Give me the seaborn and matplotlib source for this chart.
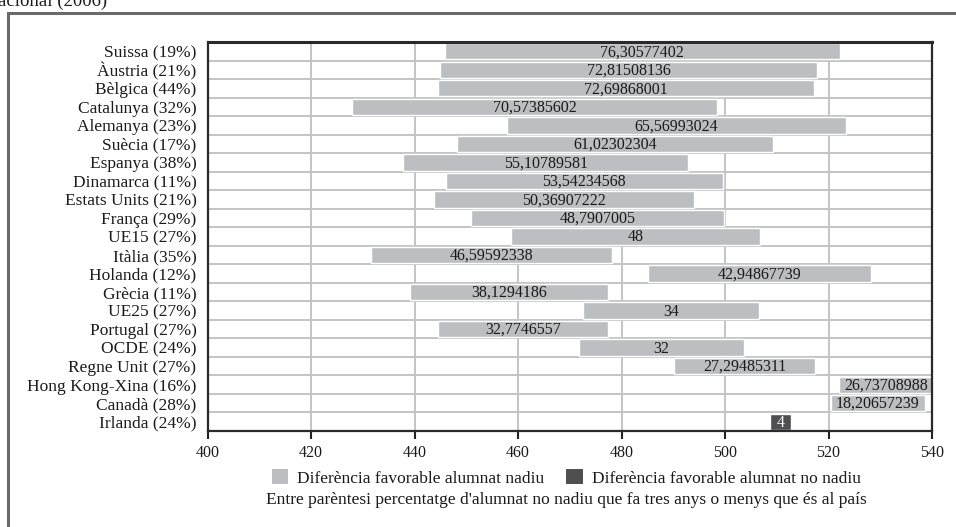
import matplotlib
matplotlib.use("Agg")
import matplotlib.pyplot as plt
from matplotlib.patches import Rectangle, Patch
import seaborn as sns
import pandas as pd
import numpy as np

countries = ["Suissa (19%)", "Àustria (21%)", "Bèlgica (44%)", "Catalunya (32%)", "Alemanya (23%)",
             "Suècia (17%)", "Espanya (38%)", "Dinamarca (11%)", "Estats Units (21%)", "França (29%)",
             "UE15 (27%)", "Itàlia (35%)", "Holanda (12%)", "Grècia (11%)", "UE25 (27%)",
             "Portugal (27%)", "OCDE (24%)", "Regne Unit (27%)", "Hong Kong-Xina (16%)", "Canadà (28%)",
             "Irlanda (24%)"]
starts = [445.85, 445.0, 444.45, 427.9, 457.8, 448.2, 437.8, 446.0, 443.7, 451.0,
          458.7, 431.65, 485.2, 439.2, 472.65, 444.55, 471.7, 490.15, 522.1, 520.4, 508.7]
differences = [76.30577402, 72.81508136, 72.69868001, 70.57385602, 65.56993024,
               61.02302304, 55.10789581, 53.54234568, 50.36907222, 48.7907005,
               48, 46.59592338, 42.94867739, 38.1294186, 34,
               32.7746557, 32, 27.29485311, 26.73708988, 18.20657239, 4]
favour = ["nadiu"] * 20 + ["no nadiu"]
x_ticks = [400, 420, 440, 460, 480, 500, 520, 540]

legend_labels = {"nadiu": "Diferència favorable alumnat nadiu",
                 "no nadiu": "Diferència favorable alumnat no nadiu"}
note = "Entre parèntesi percentatge d'alumnat no nadiu que fa tres anys o menys que és al país"
title_fragment = "acional (2006)"

LIGHT = "#bdbec1"
DARK = "#4f4f51"
TXT = "#1a1a1a"

sns.set_theme(style="white")
plt.rcParams["font.family"] = ["Liberation Serif", "DejaVu Serif"]

df = pd.DataFrame({"country": countries, "start": starts, "diff": differences, "favour": favour})

W, H = 956, 527
fig = plt.figure(figsize=(W / 100, H / 100), dpi=100)
ax = fig.add_axes([207.5 / W, 1 - 431 / H, (932 - 207.5) / W, (431 - 42) / H])

palette = {"nadiu": LIGHT, "no nadiu": DARK}
sns.barplot(data=df, x="diff", y="country", hue="favour", palette=palette, dodge=False,
            orient="y", width=0.88, ax=ax, legend=False, saturation=1,
            order=countries)

# shift each bar so it floats from its start value
for patch in ax.patches:
    yc = patch.get_y() + patch.get_height() / 2
    i = int(round(yc))
    patch.set_x(starts[i])
    patch.set_zorder(2)

ax.set_xlim(400, 540)
ax.set_ylim(20.5, -0.5)

for i, (s, d) in enumerate(zip(starts, differences)):
    lo, hi = max(s, 400), min(s + d, 540)
    txt = ("%.8f" % d).rstrip("0").rstrip(".").replace(".", ",")
    ax.text((lo + hi) / 2, i + 0.05, txt, ha="center", va="center", fontsize=11.5,
            color="white" if favour[i] == "no nadiu" else TXT, zorder=3)

ax.set_xticks(x_ticks)
ax.set_xticklabels([str(t) for t in x_ticks])
ax.set_yticks(range(len(countries)))
ax.set_yticklabels(countries)
ax.set_yticks(np.arange(-0.5, len(countries), 1), minor=True)
ax.set_xlabel("")
ax.set_ylabel("")

ax.grid(False)
ax.grid(axis="x", which="major", color="#c4c4c4", lw=1.4, zorder=0)
ax.grid(axis="y", which="minor", color="#c4c4c4", lw=1.4, zorder=0)
ax.set_axisbelow(True)

ax.tick_params(axis="y", which="major", length=0, pad=8, labelsize=12.5, labelcolor=TXT)
ax.tick_params(axis="y", which="minor", length=6, width=1.5, color="#222222", direction="out")
ax.tick_params(axis="x", which="major", length=6, width=1.5, color="#222222", direction="out",
               pad=4, labelsize=11.5, labelcolor=TXT, bottom=True)

for side, sp in ax.spines.items():
    sp.set_visible(True)
    sp.set_color("#2a2a2a")
    sp.set_linewidth(1.6)
ax.spines["top"].set_linewidth(2.2)

# legend
handles = [Patch(facecolor=palette[k], edgecolor="none", label=legend_labels[k]) for k in ["nadiu", "no nadiu"]]
fig.legend(handles=handles, loc="center", bbox_to_anchor=(566 / W, 1 - 478 / H), ncol=2,
           frameon=False, fontsize=12.5, handlelength=0.95, handleheight=0.9, handletextpad=0.5,
           columnspacing=1.3, labelcolor=TXT)
fig.text(566 / W, 1 - 500 / H, note, ha="center", va="center", fontsize=12.5, color=TXT)

# outer frame and cut-off title
fig.patches.append(Rectangle((8 / W, -0.05), 1.1, 1 - 13 / H + 0.05, transform=fig.transFigure,
                             fill=False, edgecolor="#6a6a6a", lw=2.2))
fig.text(-2 / W, 1 - 6 / H, title_fragment, ha="left", va="baseline", fontsize=13.5, color=TXT)

fig.savefig("out.png", dpi=100)
